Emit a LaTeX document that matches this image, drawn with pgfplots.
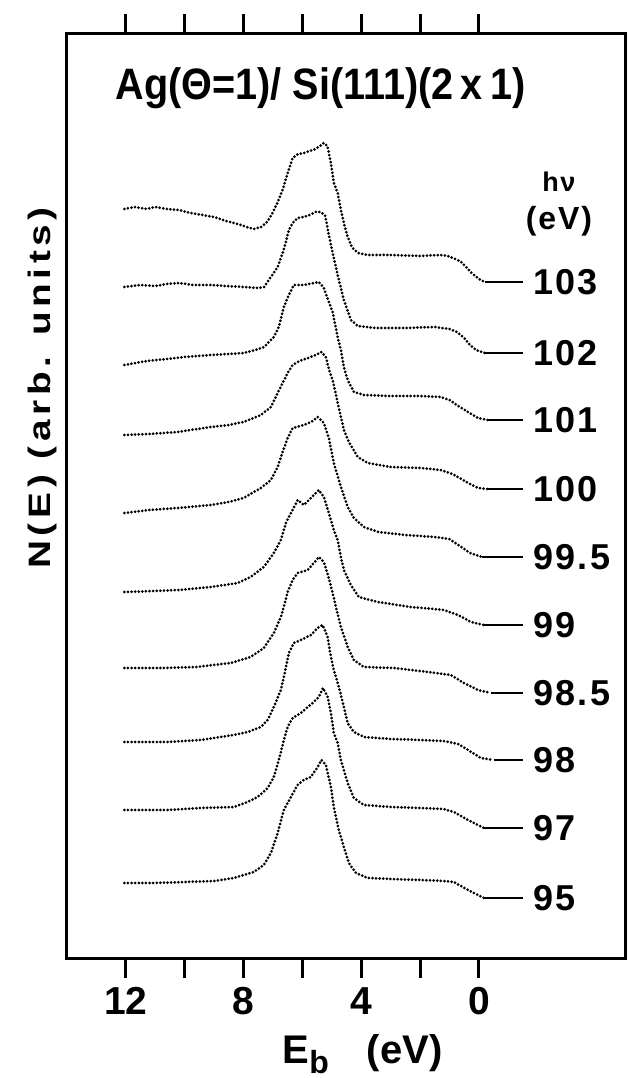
\documentclass[border=0pt]{standalone}
\usepackage{fontspec}
\setmainfont{Liberation Sans}
\newfontfamily\labfont[LetterSpace=6]{Liberation Sans}
\newfontfamily\yfont[FakeStretch=1.25,LetterSpace=15]{Liberation Sans}
\newfontfamily\titfont[FakeStretch=0.9]{Liberation Sans}
\usepackage{pgfplots}
\pgfplotsset{compat=1.18}

% spectra are drawn as close dots, the leaders to the labels as solid lines
\pgfplotsset{
  spec/.style={black, line width=3pt, line cap=round, dash pattern=on 0pt off 3.6pt},
  lead/.style={black, line width=2pt},
}

\begin{document}
\begin{tikzpicture}
\begin{axis}[
  name=ax,
  scale only axis,
  width=559pt, height=924pt,
  xmin=-5, xmax=14, ymin=0, ymax=924,
  x dir=reverse,
  axis line style={line width=3pt},
  xtick={0,2,4,6,8,10,12},
  xticklabels={0,,4,,8,,12},
  ytick=\empty,
  tick align=outside,
  xtick pos=both,
  major tick length=20pt,
  every tick/.style={black, line width=3pt},
  xticklabel style={font=\bfseries\fontsize{39}{39}\selectfont, inner sep=0pt, anchor=north, yshift=-9pt},
  clip=false,
]
% hv = 103
\addplot[spec] coordinates {(12.05,749)(11.7,751)(11.3,749)(11.0,751)(10.6,749)(10.2,748)(9.8,745)(9.4,743)(9.0,741)(8.6,737)(8.2,734)(7.9,731)(7.65,729)(7.4,731)(7.2,736)(7.05,743)(6.85,755)(6.67,768)(6.5,785)(6.33,800)(6.15,804)(5.95,805)(5.75,807)(5.55,809)(5.4,812)(5.27,815)(5.15,812)(5.03,795)(4.93,775)(4.8,765)(4.69,748)(4.59,735)(4.46,721)(4.3,710)(4.1,705)(3.8,703)(3.0,703)(2.0,702)(1.3,703)(1.05,702)(0.8,699)(0.6,696)(0.4,690)(0.25,685)(0.0,679)(-0.2,676)};
\addplot[lead] coordinates {(-0.2,676)(-1.5,676)};
% hv = 102
\addplot[spec] coordinates {(12.05,671)(11.5,673)(11.0,672)(10.6,674)(10.2,675)(9.7,673)(9.1,673)(8.6,672)(8.0,671)(7.5,670)(7.3,671)(7.07,681)(6.84,691)(6.67,705)(6.56,716)(6.46,728)(6.33,735)(6.16,740)(5.95,741)(5.75,743)(5.55,746)(5.37,746)(5.22,742)(5.1,723)(4.97,705)(4.86,691)(4.76,678)(4.59,658)(4.35,638)(4.12,632)(3.5,630)(2.5,630)(1.5,631)(1.0,629)(0.75,626)(0.5,620)(0.3,613)(0.1,608)(-0.2,605)};
\addplot[lead] coordinates {(-0.2,605)(-1.5,605)};
% hv = 101
\addplot[spec] coordinates {(12.05,593)(11.3,597)(10.6,599)(10.0,601)(9.1,603)(8.5,604)(8.0,605)(7.6,608)(7.3,611)(6.97,621)(6.8,631)(6.63,651)(6.46,663)(6.29,673)(5.95,673)(5.61,675)(5.44,676)(5.27,670)(5.1,656)(4.97,646)(4.8,621)(4.69,608)(4.59,591)(4.46,578)(4.25,566)(3.9,563)(3.0,562)(2.0,562)(1.3,561)(1.0,558)(0.7,552)(0.37,546)(0.03,540)(-0.3,538)};
\addplot[lead] coordinates {(-0.3,538)(-1.5,538)};
% hv = 100
\addplot[spec] coordinates {(12.05,523)(11.2,524)(10.24,526)(9.12,531)(8.5,533)(8.0,536)(7.41,543)(7.07,551)(6.84,565)(6.67,575)(6.5,585)(6.33,593)(6.1,597)(5.8,600)(5.55,603)(5.35,606)(5.2,601)(5.08,587)(4.97,578)(4.8,555)(4.69,541)(4.59,528)(4.42,516)(4.12,501)(3.78,495)(3.0,491)(2.0,490)(1.3,488)(0.9,484)(0.6,479)(0.3,474)(0.03,470)(-0.3,469)};
\addplot[lead] coordinates {(-0.3,469)(-1.5,469)};
% hv = 99.5
\addplot[spec] coordinates {(12.05,445)(11.2,448)(10.24,450)(9.12,453)(8.5,456)(8.0,460)(7.41,470)(7.07,478)(6.84,491)(6.67,506)(6.5,520)(6.33,530)(5.95,533)(5.7,536)(5.48,541)(5.27,535)(5.1,520)(4.93,495)(4.69,471)(4.46,451)(4.25,440)(3.91,431)(3.42,426)(2.5,423)(1.5,421)(1.0,419)(0.6,411)(0.3,405)(-0.1,401)};
\addplot[lead] coordinates {(-0.1,401)(-1.5,401)};
% hv = 99
\addplot[spec] coordinates {(12.05,366)(11.0,367)(10.2,368)(9.1,371)(8.2,375)(7.76,381)(7.31,391)(6.97,405)(6.73,418)(6.56,435)(6.46,441)(6.33,448)(6.16,458)(5.95,453)(5.71,460)(5.44,468)(5.27,461)(5.1,445)(4.93,428)(4.8,418)(4.69,401)(4.59,388)(4.35,373)(4.08,361)(3.44,356)(2.31,351)(1.19,348)(0.71,343)(0.27,336)(-0.17,333)};
\addplot[lead] coordinates {(-0.17,333)(-1.5,333)};
% hv = 98.5
\addplot[spec] coordinates {(12.05,290)(10.7,290)(9.6,291)(8.44,295)(7.76,301)(7.31,310)(6.97,325)(6.73,341)(6.63,351)(6.5,366)(6.33,378)(6.16,385)(5.82,388)(5.61,395)(5.44,401)(5.27,396)(5.1,380)(4.97,365)(4.86,351)(4.69,331)(4.46,311)(4.25,298)(3.91,291)(2.89,290)(1.73,286)(0.95,283)(0.51,275)(0.03,268)(-0.4,265)};
\addplot[lead] coordinates {(-0.4,265)(-1.5,265)};
% hv = 98
\addplot[spec] coordinates {(12.05,216)(10.58,216)(9.46,218)(8.33,223)(7.86,226)(7.41,231)(7.18,238)(6.97,251)(6.73,268)(6.63,281)(6.46,305)(6.29,315)(6.05,318)(5.71,323)(5.48,330)(5.31,333)(5.14,321)(5.03,301)(4.93,288)(4.76,271)(4.59,251)(4.46,235)(4.25,226)(3.91,221)(3.0,219)(2.0,218)(1.2,217)(0.71,214)(0.37,208)(-0.07,200)(-0.5,198)};
\addplot[lead] coordinates {(-0.5,198)(-1.5,198)};
% hv = 97
\addplot[spec] coordinates {(12.05,148)(10.58,148)(9.46,150)(8.33,151)(7.86,156)(7.52,161)(7.18,170)(6.97,181)(6.8,198)(6.63,218)(6.5,231)(6.33,240)(6.05,245)(5.82,251)(5.65,255)(5.44,261)(5.3,270)(5.14,261)(5.03,245)(4.93,225)(4.8,215)(4.69,198)(4.46,175)(4.25,160)(3.91,153)(3.0,151)(2.0,150)(1.2,149)(0.85,146)(0.37,138)(-0.17,130)};
\addplot[lead] coordinates {(-0.17,130)(-1.5,130)};
% hv = 95
\addplot[spec] coordinates {(12.05,75)(11.0,75)(10.0,76)(9.0,77)(8.33,80)(7.65,86)(7.31,93)(7.07,105)(6.84,125)(6.63,148)(6.39,161)(6.16,173)(5.95,178)(5.71,181)(5.48,191)(5.35,198)(5.2,193)(5.03,171)(4.93,151)(4.76,128)(4.59,111)(4.42,95)(4.18,85)(3.78,80)(3.0,79)(2.0,78)(1.2,77)(0.85,76)(0.37,68)(-0.17,60)};
\addplot[lead] coordinates {(-0.17,60)(-1.5,60)};

% photon energies
\begin{scope}[every node/.style={anchor=west, inner sep=0pt, font=\labfont\bfseries\fontsize{36}{36}\selectfont}]
\node at (axis cs:-1.85,676) {103};
\node at (axis cs:-1.85,605) {102};
\node at (axis cs:-1.85,538) {101};
\node at (axis cs:-1.85,469) {100};
\node at (axis cs:-1.85,401) {99.5};
\node at (axis cs:-1.85,333) {99};
\node at (axis cs:-1.85,265) {98.5};
\node at (axis cs:-1.85,198) {98};
\node at (axis cs:-1.85,130) {97};
\node at (axis cs:-1.85,60) {95};
\end{scope}
\node[font=\labfont\bfseries\fontsize{27}{27}\selectfont, inner sep=0pt] at (axis cs:-2.72,776) {hν};
\node[font=\labfont\bfseries\fontsize{32}{32}\selectfont, inner sep=0pt] at (axis cs:-2.72,737) {(eV)};

\node[anchor=base west, inner sep=0pt, font=\titfont\bfseries\fontsize{44}{44}\selectfont] at (axis cs:12.35,858) {Ag(Θ=1)/ Si(111)(2\,x\,1)};

\node[rotate=90, inner sep=0pt, font=\yfont\bfseries\fontsize{31}{31}\selectfont] at ([xshift=-25pt]axis description cs:0,0.617) {N(E)\hspace{16pt}(arb. units)};

\node[anchor=base, inner sep=0pt, font=\bfseries\fontsize{40}{40}\selectfont] at ([yshift=-105pt]axis description cs:0.5286,0) {E\raisebox{-0.25em}{\fontsize{32}{32}\selectfont b}\hspace{38pt}(eV)};
\end{axis}
\pgfresetboundingbox
\path[use as bounding box] ([xshift=-67pt,yshift=-120pt]ax.south west) rectangle ([xshift=2pt,yshift=34pt]ax.north east);
\end{tikzpicture}
\end{document}
